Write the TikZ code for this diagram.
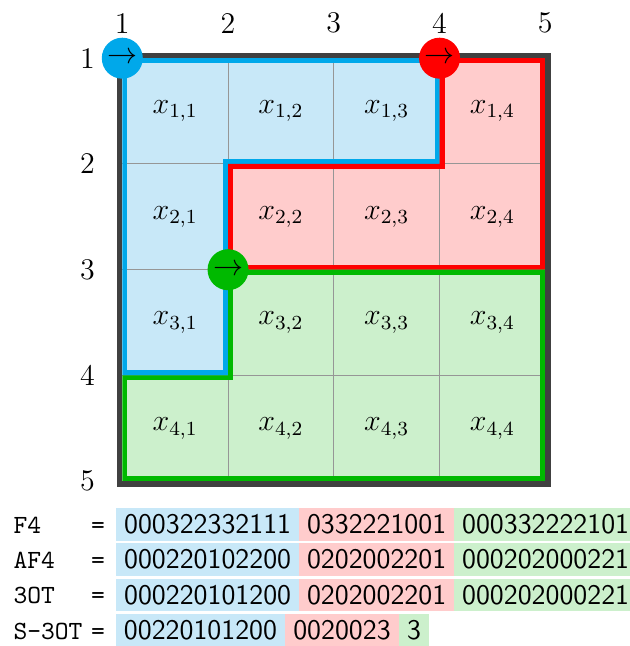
\documentclass[tikz,border=0pt]{standalone}
\usepackage{fontspec}
\definecolor{bluel}{RGB}{0,168,234}
\definecolor{bluef}{RGB}{200,232,248}
\definecolor{redl}{RGB}{255,0,0}
\definecolor{redf}{RGB}{255,204,204}
\definecolor{greenl}{RGB}{0,185,0}
\definecolor{greenf}{RGB}{204,240,204}
\definecolor{darkb}{RGB}{64,64,64}
\definecolor{gridc}{RGB}{150,150,150}
\tikzset{
  numlab/.style={font=\fontsize{12}{14}\selectfont, inner sep=0pt},
  celllab/.style={font=\fontsize{12}{14}\selectfont, inner sep=0pt},
  gridl/.style={gridc, line width=0.4pt},
  outl/.style={line width=4pt, line join=miter},
  marker/.style={circle, inner sep=0pt, minimum size=16.4pt, font=\fontsize{12}{14}\selectfont},
  seg/.style={anchor=west, inner xsep=2pt, inner ysep=0pt, minimum height=13pt, outer sep=0pt,
    text height=7.4pt, text depth=0pt, font=\fontsize{11.36}{13}\sffamily},
  lab/.style={anchor=west, inner sep=0pt, text height=7.2pt, text depth=0pt, font=\fontsize{10.5}{13}\ttfamily},
  eqlab/.style={inner sep=0pt, text height=7.2pt, text depth=0pt, font=\fontsize{10.5}{13}\ttfamily}
}
\begin{document}
\begin{tikzpicture}[x=0.4pt,y=-0.4pt]
\useasboundingbox (0,0) rectangle (630,646);
\begin{scope}[shift={(122.3,58.2)},x=42.3pt,y=-42.3pt]
  % fills
  \fill[bluef] (0,0) -- (3,0) -- (3,1) -- (1,1) -- (1,3) -- (0,3) -- cycle;
  \fill[redf] (3,0) -- (4,0) -- (4,2) -- (1,2) -- (1,1) -- (3,1) -- cycle;
  \fill[greenf] (1,2) -- (4,2) -- (4,4) -- (0,4) -- (0,3) -- (1,3) -- cycle;
  % grid
  \foreach \i in {1,2,3} {
    \draw[gridl] (\i,0) -- (\i,4);
    \draw[gridl] (0,\i) -- (4,\i);
  }
  % region outlines (inset)
  \begin{scope}
    \clip (0,0) -- (3,0) -- (3,1) -- (1,1) -- (1,3) -- (0,3) -- cycle;
    \draw[outl, bluel] (0,0) -- (3,0) -- (3,1) -- (1,1) -- (1,3) -- (0,3) -- cycle;
  \end{scope}
  \begin{scope}
    \clip (3,0) -- (4,0) -- (4,2) -- (1,2) -- (1,1) -- (3,1) -- cycle;
    \draw[outl, redl] (3,0) -- (4,0) -- (4,2) -- (1,2) -- (1,1) -- (3,1) -- cycle;
  \end{scope}
  \begin{scope}
    \clip (1,2) -- (4,2) -- (4,4) -- (0,4) -- (0,3) -- (1,3) -- cycle;
    \draw[outl, greenl] (1,2) -- (4,2) -- (4,4) -- (0,4) -- (0,3) -- (1,3) -- cycle;
  \end{scope}
  % outer border
  \draw[darkb, line width=2.2pt] (-0.0265,-0.0265) rectangle (4.0265,4.0265);
  % cell labels
  \foreach \r in {1,...,4} {
    \foreach \c in {1,...,4} {
      \node[celllab] (c\r\c) at (\c-0.5,\r-0.5) {$x_{\r,\c}$};
    }
  }
  % axis labels
  \foreach \i in {1,...,5} {
    \node[numlab] (col\i) at (\i-1,-0.33) {\i};
    \node[numlab] (row\i) at (-0.33,\i-1) {\i};
  }
  % markers
  \node[marker, fill=bluel] (mb) at (0,0) {$\rightarrow$};
  \node[marker, fill=redl] (mr) at (3,0) {$\rightarrow$};
  \node[marker, fill=greenl] (mg) at (1,2) {$\rightarrow$};
\end{scope}
% sequences
\node[lab] (l1) at (13,524.5) {F4};
\node[eqlab] (e1) at (98,524.5) {=};
\node[seg, fill=bluef, minimum width=73.3pt] (b1) at (116,524.5) {000322332111};
\node[seg, fill=redf, minimum width=61.9pt] (r1) at (b1.east) {0332221001};
\node[seg, fill=greenf, minimum width=73.3pt] (g1) at (r1.east) {000332222101};

\node[lab] (l2) at (13,559.7) {AF4};
\node[eqlab] (e2) at (98,559.7) {=};
\node[seg, fill=bluef, minimum width=73.3pt] (b2) at (116,559.7) {000220102200};
\node[seg, fill=redf, minimum width=61.9pt] (r2) at (b2.east) {0202002201};
\node[seg, fill=greenf, minimum width=73.3pt] (g2) at (r2.east) {000202000221};

\node[lab] (l3) at (13,594.8) {3OT};
\node[eqlab] (e3) at (98,594.8) {=};
\node[seg, fill=bluef, minimum width=73.3pt] (b3) at (116,594.8) {000220101200};
\node[seg, fill=redf, minimum width=61.9pt] (r3) at (b3.east) {0202002201};
\node[seg, fill=greenf, minimum width=73.3pt] (g3) at (r3.east) {000202000221};

\node[lab] (l4) at (13,630) {S-3OT};
\node[eqlab] (e4) at (98,630) {=};
\node[seg, fill=bluef, minimum width=67.6pt] (b4) at (116,630) {00220101200};
\node[seg, fill=redf, minimum width=45.6pt] (r4) at (b4.east) {0020023};
\node[seg, fill=greenf, minimum width=12pt] (g4) at (r4.east) {3};
\end{tikzpicture}
\end{document}
